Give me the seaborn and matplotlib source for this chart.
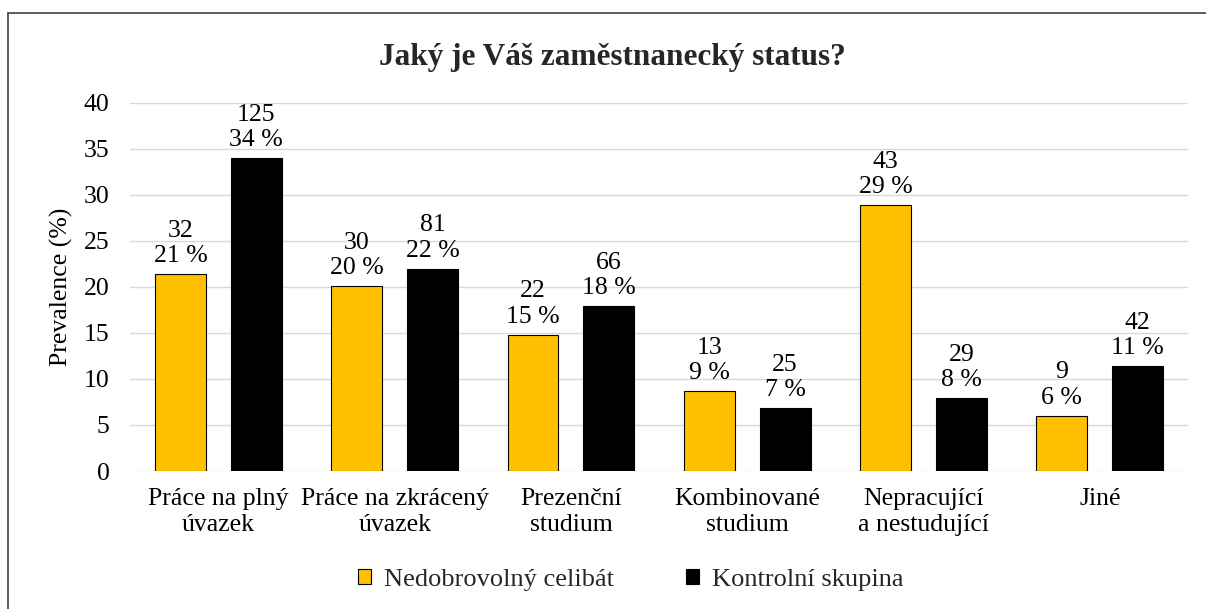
import matplotlib
matplotlib.use('Agg')
import matplotlib.pyplot as plt
import pandas as pd
import seaborn as sns
from matplotlib.patches import Patch, Rectangle

categories = ["Práce na plný\núvazek", "Práce na zkrácený\núvazek", "Prezenční\nstudium",
              "Kombinované\nstudium", "Nepracující\na nestudující", "Jiné"]
groups = ["Nedobrovolný celibát", "Kontrolní skupina"]
celibat_pct = [21.4, 20.1, 14.8, 8.7, 28.9, 6.0]
kontrol_pct = [34.0, 22.0, 17.9, 6.8, 7.9, 11.4]
celibat_n = [32, 30, 22, 13, 43, 9]
kontrol_n = [125, 81, 66, 25, 29, 42]
colors = ["#FFC000", "#000000"]

df = pd.DataFrame({
    "kategorie": categories * 2,
    "skupina": [groups[0]] * 6 + [groups[1]] * 6,
    "pct": celibat_pct + kontrol_pct,
})

sns.set_theme(style="white")
plt.rcParams['font.family'] = ['Liberation Serif', 'DejaVu Serif']

fig = plt.figure(figsize=(12.06, 6.09), dpi=100)
ax = fig.add_axes([0.108, 0.2266, 0.877, 0.6043])

sns.barplot(data=df, x="kategorie", y="pct", hue="skupina", order=categories,
            hue_order=groups, palette=colors, saturation=1, width=0.86, gap=0.33,
            edgecolor="black", linewidth=0.8, legend=False, ax=ax)

ax.set_ylim(0, 40)
ax.set_yticks(range(0, 41, 5))
ax.yaxis.grid(True, color="#D9D9D9", linewidth=1)
ax.set_axisbelow(True)
for s in ax.spines.values():
    s.set_visible(False)
ax.tick_params(axis="both", length=0, labelsize=18.5, colors="black")
ax.tick_params(axis="x", pad=12)
ax.tick_params(axis="y", pad=15)
ax.set_xlabel("")
ax.set_ylabel("Prevalence (%)", fontsize=18.5, color="black", labelpad=8)
for lbl in ax.get_xticklabels():
    lbl.set_linespacing(1.25)

# popisky: pocet + procenta nad kazdym sloupcem
for cont, counts, pcts in zip(ax.containers, [celibat_n, kontrol_n], [celibat_pct, kontrol_pct]):
    labels = [f"{n}\n{round(p)} %" for n, p in zip(counts, pcts)]
    texts = ax.bar_label(cont, labels=labels, padding=5, fontsize=18.5, color="black")
    for t in texts:
        t.set_linespacing(1.2)

fig.text(0.508, 0.905, "Jaký je Váš zaměstnanecký status?", ha="center", va="center",
         fontsize=22.5, fontweight="bold")

handles = [Patch(facecolor=c, edgecolor="black", linewidth=0.8) for c in colors]
fig.legend(handles, groups, loc="center", bbox_to_anchor=(0.523, 0.048), ncol=2,
           frameon=False, fontsize=19, handlelength=0.5, handleheight=0.5,
           handletextpad=0.5, columnspacing=2.7)

fig.patches.append(Rectangle((8 / 1206, -0.1), 1.2, 1 - 13 / 609 + 0.1,
                             transform=fig.transFigure, fill=False,
                             edgecolor="#404040", linewidth=1.2))

fig.savefig("out.png", dpi=100)
